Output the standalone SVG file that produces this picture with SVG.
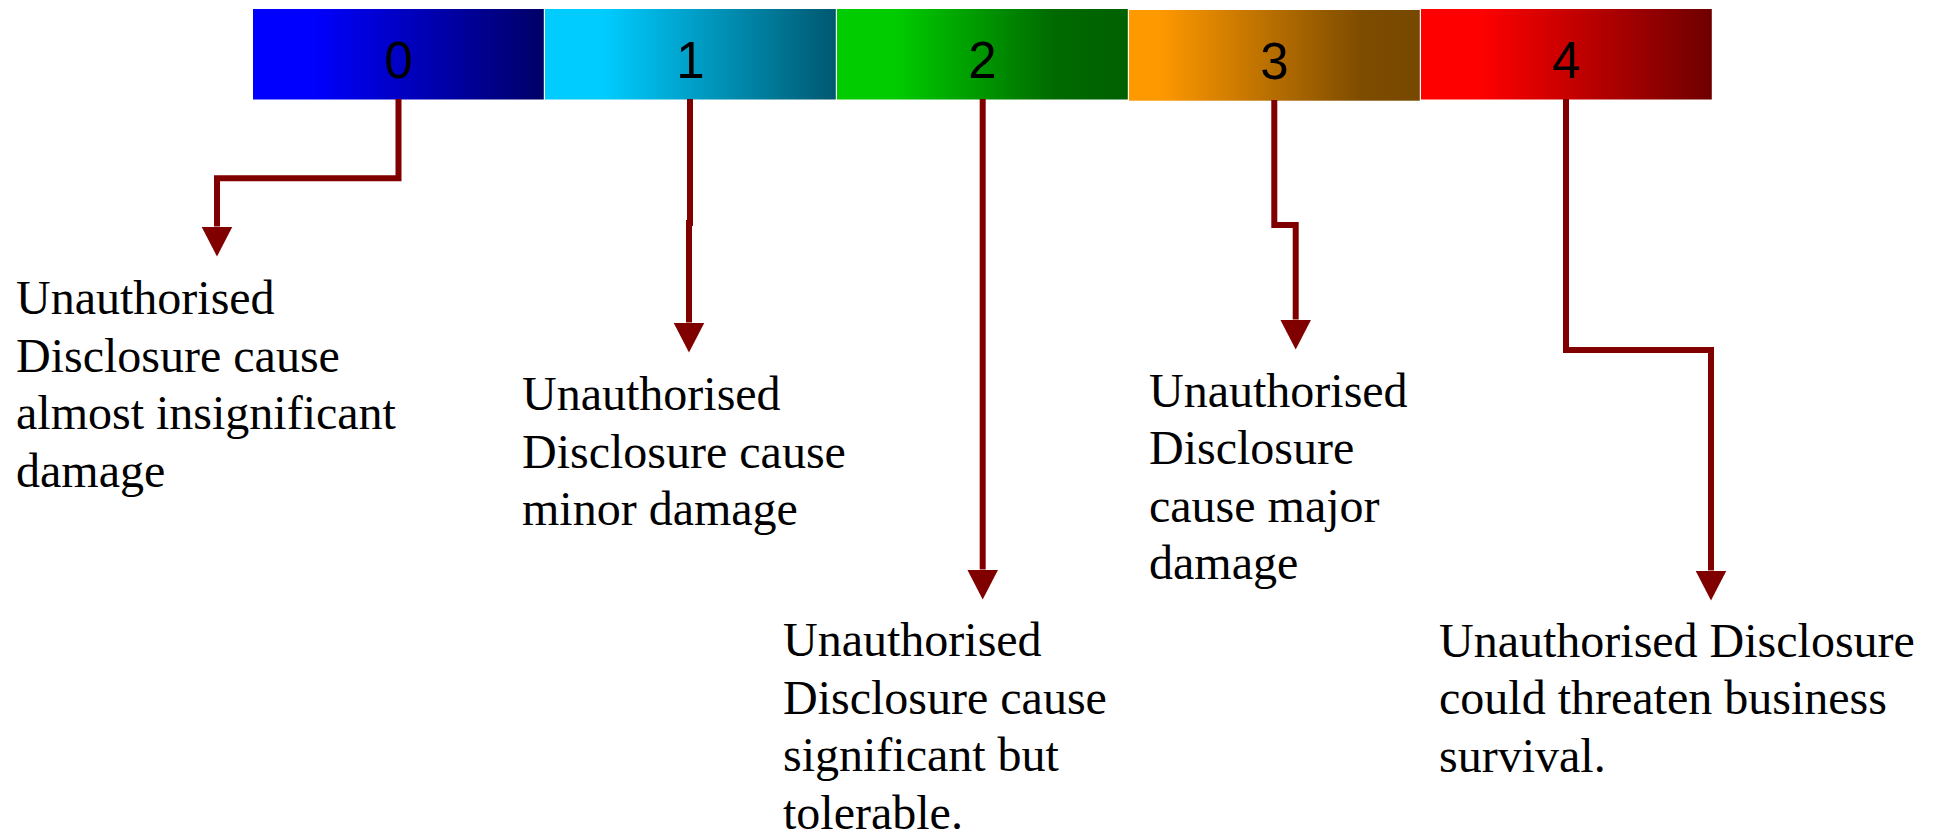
<svg xmlns="http://www.w3.org/2000/svg" width="1936" height="834" viewBox="0 0 1936 834">
  <defs>
    <linearGradient id="g0" x1="0" y1="0" x2="1" y2="0">
      <stop offset="0.2" stop-color="#0000FF"/>
      <stop offset="1" stop-color="#000066"/>
    </linearGradient>
    <linearGradient id="g1" x1="0" y1="0" x2="1" y2="0">
      <stop offset="0.2" stop-color="#00CCFF"/>
      <stop offset="1" stop-color="#005870"/>
    </linearGradient>
    <linearGradient id="g2" x1="0" y1="0" x2="1" y2="0">
      <stop offset="0.2" stop-color="#00CC00"/>
      <stop offset="0.75" stop-color="#006A00"/>
      <stop offset="1" stop-color="#006000"/>
    </linearGradient>
    <linearGradient id="g3" x1="0" y1="0" x2="1" y2="0">
      <stop offset="0.1" stop-color="#FF9900"/>
      <stop offset="0.8" stop-color="#7E4C00"/>
      <stop offset="1" stop-color="#774800"/>
    </linearGradient>
    <linearGradient id="g4" x1="0" y1="0" x2="1" y2="0">
      <stop offset="0.2" stop-color="#FF0000"/>
      <stop offset="1" stop-color="#6E0000"/>
    </linearGradient>
    <marker id="arrow" markerUnits="userSpaceOnUse" viewBox="0 0 30 31" markerWidth="30" markerHeight="31" refX="0" refY="15.5" orient="auto">
      <path d="M0,0 L30,15.5 L0,31 z" fill="#800000"/>
    </marker>
  </defs>
  <style>
    .seg-label { font-family: "Liberation Sans", Arial, sans-serif; font-size: 51px; fill: #000000; text-anchor: middle; }
    .desc { font-family: "Liberation Serif", "Times New Roman", serif; font-size: 48px; fill: #000000; }
    .conn { fill: none; stroke: #800000; stroke-width: 6; stroke-linejoin: miter; stroke-linecap: butt; marker-end: url(#arrow); }
  </style>

  <rect width="1936" height="834" fill="#FFFFFF"/>

  <!-- scale bar segments -->
  <g id="level-0">
    <rect x="253" y="9" width="290.8" height="90.5" fill="url(#g0)"/>
    <text class="seg-label" x="398.4" y="78.3">0</text>
  </g>
  <g id="level-1">
    <rect x="545" y="9" width="290.8" height="90.5" fill="url(#g1)"/>
    <text class="seg-label" x="690.4" y="78.3">1</text>
  </g>
  <g id="level-2">
    <rect x="837" y="9" width="290.8" height="90.5" fill="url(#g2)"/>
    <text class="seg-label" x="982.4" y="78.3">2</text>
  </g>
  <g id="level-3">
    <rect x="1129" y="10" width="290.8" height="90.7" fill="url(#g3)"/>
    <text class="seg-label" x="1274.4" y="79">3</text>
  </g>
  <g id="level-4">
    <rect x="1421" y="9" width="290.8" height="90.5" fill="url(#g4)"/>
    <text class="seg-label" x="1566.4" y="78.3">4</text>
  </g>

  <!-- connectors -->
  <g id="connectors">
    <path class="conn" d="M398.5,99 V178.3 H217 V226.5"/>
    <path class="conn" d="M690,99 V223 H689 V322.5"/>
    <path class="conn" d="M982.7,99 V569.5"/>
    <path class="conn" d="M1274.3,100 V225 H1295.7 V319.5"/>
    <path class="conn" d="M1566,99 V350 H1711 V570.5"/>
  </g>

  <!-- descriptions -->
  <g id="desc-0">
    <text class="desc" x="16" y="314">
      <tspan x="16">Unauthorised</tspan>
      <tspan x="16" dy="57.6">Disclosure cause</tspan>
      <tspan x="16" dy="57.6">almost insignificant</tspan>
      <tspan x="16" dy="57.6">damage</tspan>
    </text>
  </g>
  <g id="desc-1">
    <text class="desc" x="522" y="410">
      <tspan x="522">Unauthorised</tspan>
      <tspan x="522" dy="57.6">Disclosure cause</tspan>
      <tspan x="522" dy="57.6">minor damage</tspan>
    </text>
  </g>
  <g id="desc-2">
    <text class="desc" x="783" y="656">
      <tspan x="783">Unauthorised</tspan>
      <tspan x="783" dy="57.6">Disclosure cause</tspan>
      <tspan x="783" dy="57.6">significant but</tspan>
      <tspan x="783" dy="57.6">tolerable.</tspan>
    </text>
  </g>
  <g id="desc-3">
    <text class="desc" x="1149" y="406.5">
      <tspan x="1149">Unauthorised</tspan>
      <tspan x="1149" dy="57.6">Disclosure</tspan>
      <tspan x="1149" dy="57.6">cause major</tspan>
      <tspan x="1149" dy="57.6">damage</tspan>
    </text>
  </g>
  <g id="desc-4">
    <text class="desc" x="1439" y="656.5">
      <tspan x="1439">Unauthorised Disclosure</tspan>
      <tspan x="1439" dy="57.6">could threaten business</tspan>
      <tspan x="1439" dy="57.6">survival.</tspan>
    </text>
  </g>
</svg>
